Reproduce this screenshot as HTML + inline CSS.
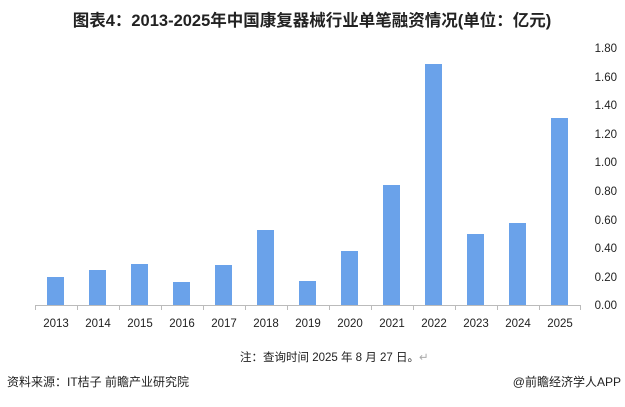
<!DOCTYPE html>
<html><head><meta charset="utf-8"><style>
body{margin:0;background:#fff;}
svg text{font-family:"Liberation Sans","Noto Sans CJK SC",sans-serif;}
</style></head><body>
<svg width="625" height="402" xmlns="http://www.w3.org/2000/svg">
<rect width="625" height="402" fill="#fff"/>
<text x="312" y="26" text-anchor="middle" font-size="16.5" font-weight="bold" fill="#222">图表4：2013-2025年中国康复器械行业单笔融资情况(单位：亿元)</text>
<g font-size="11.5" fill="#222" text-anchor="end">
<text x="617" y="52">1.80</text>
<text x="617" y="81">1.60</text>
<text x="617" y="109">1.40</text>
<text x="617" y="138">1.20</text>
<text x="617" y="166">1.00</text>
<text x="617" y="195">0.80</text>
<text x="617" y="224">0.60</text>
<text x="617" y="252">0.40</text>
<text x="617" y="281">0.20</text>
<text x="617" y="309">0.00</text>
</g>
<g fill="#6aa2ea">
<rect x="47" y="277" width="17" height="28"/>
<rect x="89" y="270" width="17" height="35"/>
<rect x="131" y="264" width="17" height="41"/>
<rect x="173" y="282" width="17" height="23"/>
<rect x="215" y="265" width="17" height="40"/>
<rect x="257" y="230" width="17" height="75"/>
<rect x="299" y="281" width="17" height="24"/>
<rect x="341" y="251" width="17" height="54"/>
<rect x="383" y="185" width="17" height="120"/>
<rect x="425" y="64" width="17" height="241"/>
<rect x="467" y="234" width="17" height="71"/>
<rect x="509" y="223" width="17" height="82"/>
<rect x="551" y="118" width="17" height="187"/>
</g>
<line x1="35" y1="305.5" x2="581" y2="305.5" stroke="#bbb"/>
<g stroke="#bbb">
<line x1="35.5" y1="305" x2="35.5" y2="310"/><line x1="77.5" y1="305" x2="77.5" y2="310"/><line x1="119.5" y1="305" x2="119.5" y2="310"/><line x1="161.5" y1="305" x2="161.5" y2="310"/><line x1="203.5" y1="305" x2="203.5" y2="310"/><line x1="245.5" y1="305" x2="245.5" y2="310"/><line x1="287.5" y1="305" x2="287.5" y2="310"/><line x1="329.5" y1="305" x2="329.5" y2="310"/><line x1="371.5" y1="305" x2="371.5" y2="310"/><line x1="413.5" y1="305" x2="413.5" y2="310"/><line x1="455.5" y1="305" x2="455.5" y2="310"/><line x1="497.5" y1="305" x2="497.5" y2="310"/><line x1="539.5" y1="305" x2="539.5" y2="310"/><line x1="580.5" y1="305" x2="580.5" y2="310"/>
</g>
<g font-size="11.5" fill="#222" text-anchor="middle">
<text x="56" y="327">2013</text><text x="98" y="327">2014</text><text x="140" y="327">2015</text><text x="182" y="327">2016</text><text x="224" y="327">2017</text><text x="266" y="327">2018</text><text x="308" y="327">2019</text><text x="350" y="327">2020</text><text x="392" y="327">2021</text><text x="434" y="327">2022</text><text x="476" y="327">2023</text><text x="518" y="327">2024</text><text x="560" y="327">2025</text>
</g>
<text x="240" y="361" font-size="11.5" fill="#222">注：查询时间 2025 年 8 月 27 日。<tspan fill="#aaa">↵</tspan></text>
<text x="7" y="386" font-size="12" fill="#222">资料来源：IT桔子 前瞻产业研究院</text>
<text x="621" y="386" font-size="12" fill="#222" text-anchor="end">@前瞻经济学人APP</text>
</svg>
</body></html>
